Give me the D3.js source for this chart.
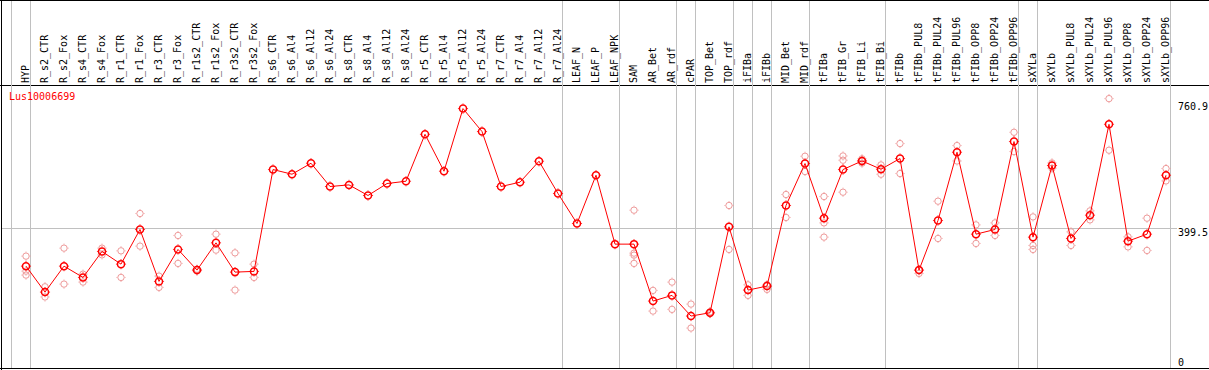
<!DOCTYPE html>
<html><head><meta charset="utf-8">
<script src="https://cdn.jsdelivr.net/npm/d3@7"></script>
<style>
html,body{margin:0;padding:0;background:#fff;}
svg{display:block;}
text{font-family:"DejaVu Sans Mono",monospace;font-size:10px;}
</style></head>
<body>
<script>
const geneName = "Lus10006699";
const categories = ["HYP","R_s2_CTR","R_s2_Fox","R_s4_CTR","R_s4_Fox","R_r1_CTR","R_r1_Fox","R_r3_CTR","R_r3_Fox","R_r1s2_CTR","R_r1s2_Fox","R_r3s2_CTR","R_r3s2_Fox","R_s6_CTR","R_s6_Al4","R_s6_Al12","R_s6_Al24","R_s8_CTR","R_s8_Al4","R_s8_Al12","R_s8_Al24","R_r5_CTR","R_r5_Al4","R_r5_Al12","R_r5_Al24","R_r7_CTR","R_r7_Al4","R_r7_Al12","R_r7_Al24","LEAF_N","LEAF_P","LEAF_NPK","SAM","AR_Bet","AR_rdf","cPAR","TOP_Bet","TOP_rdf","iFIBa","iFIBb","MID_Bet","MID_rdf","tFIBa","tFIB_Gr","tFIB_Li","tFIB_Bi","tFIBb","tFIBb_PUL8","tFIBb_PUL24","tFIBb_PUL96","tFIBb_OPP8","tFIBb_OPP24","tFIBb_OPP96","sXYLa","sXYLb","sXYLb_PUL8","sXYLb_PUL24","sXYLb_PUL96","sXYLb_OPP8","sXYLb_OPP24","sXYLb_OPP96"];
const means = [292.6,220.2,292.6,261.1,333.6,298.2,394.9,250.0,339.2,281.5,357.6,275.9,277.9,562.1,549.1,579.7,514.8,519.3,489.7,523.1,529.5,660.5,557.4,732.2,668.1,514.8,526.8,585.3,495.3,411.6,546.3,354.0,354.0,195.1,211.0,153.3,162.5,402.2,225.8,236.9,461.8,578.9,426.4,562.1,586.1,563.0,592.8,281.5,420.0,610.4,381.8,394.9,640.2,373.5,573.3,369.8,434.8,688.4,362.3,381.8,546.3];
const replicates = [
 [320.5,278.7,267.6],[235.0,206.6],[342.8,242.5],[270.3,248.1],[342.8,324.1],[335.3,261.1],[439.5,348.4],[264.8,233.3],[378.2,300.2],[284.0,279.0],[381.8,337.2],[329.7,225.8],[298.2,261.1],
 [],[],[],[],[],[],[],[],[],[],[],[],[],[],[],[],[],[],[],
 [448.7,328.9,323.3,300.2],[224.9,167.2],[248.0,172.0],[186.7,119.8],[165.0,160.0],[461.8,339.2],[240.5,211.0],[241.0,227.7],[492.5,428.4],[599.2,556.6],[486.9,413.3,373.5],[600.0,588.1,498.9],[592.0,586.0,580.0],[575.0,549.0],[634.6,551.0],[281.5,272.3],[473.8,369.8],[629.0,586.0],[407.7,355.9],[413.3,378.2],[666.1,612.3],
 [430.0,350.3,339.2],[580.6,565.8],[388.2,350.3],[446.8,421.7],[760.0,616.0],[374.3,346.4],[426.4,336.4],[564.9,530.4]
];
const yTickValues = [0, 399.5, 760.9];
const yTickLabels = ["0", "399.5", "760.9"];
const groupEnds = [-1, 0, 28, 31, 34, 35, 37, 38, 39, 41, 45, 52, 53, 60];

const W = 1209, H = 370;
const svg = d3.select("body").append("svg").attr("width", W).attr("height", H);

const x = d3.scaleLinear().domain([0, categories.length - 1]).range([26, 1166]);
const y = d3.scaleLinear().domain([0, 760.9]).range([371, 98.3]);

// frame
svg.append("line").attr("x1",0).attr("x2",W).attr("y1",0.5).attr("y2",0.5).attr("stroke","#000");
svg.append("line").attr("x1",0).attr("x2",W).attr("y1",85.5).attr("y2",85.5).attr("stroke","#000");
svg.append("line").attr("x1",0).attr("x2",W).attr("y1",368.5).attr("y2",368.5).attr("stroke","#000");
svg.append("line").attr("x1",1.5).attr("x2",1.5).attr("y1",0).attr("y2",H).attr("stroke","#000");

// group separators
svg.selectAll("line.sep").data(groupEnds).enter().append("line")
  .attr("class","sep")
  .attr("x1", d => Math.round(x(d) + 4) + 0.5).attr("x2", d => Math.round(x(d) + 4) + 0.5)
  .attr("y1", 1).attr("y2", 368)
  .attr("stroke", "#c0c0c0");

// middle gridline
svg.append("line").attr("x1",2).attr("x2",1177)
  .attr("y1", Math.round(y(yTickValues[1])) + 0.5).attr("y2", Math.round(y(yTickValues[1])) + 0.5)
  .attr("stroke","#c0c0c0");

// y labels on the right
svg.selectAll("text.yl").data(yTickValues).enter().append("text")
  .attr("class","yl")
  .attr("x", 1178)
  .attr("y", (d,i) => i === 0 ? 366 : (i === 2 ? 110 : y(d) + 8))
  .attr("fill","#000")
  .text((d,i) => yTickLabels[i]);

// category labels
svg.selectAll("text.cat").data(categories).enter().append("text")
  .attr("class","cat")
  .attr("transform", (d,i) => `translate(${x(i) + 3},83) rotate(-90)`)
  .attr("fill","#000")
  .text(d => d);

// title
svg.append("text").attr("x", 9).attr("y", 100).attr("fill", "#ff0000").text(geneName);

function marker(g, cx, cy, r, color, sw) {
  g.append("circle").attr("cx", cx).attr("cy", cy).attr("r", r)
    .attr("fill", "none").attr("stroke", color).attr("stroke-width", sw);
  const a = r + sw/2, b = a + 0.8;
  g.append("path")
    .attr("d", `M${cx},${cy - b}V${cy - a}M${cx},${cy + b}V${cy + a}M${cx - b},${cy}H${cx - a}M${cx + b},${cy}H${cx + a}`)
    .attr("stroke", color).attr("stroke-width", 1);
}

// replicates
const repG = svg.append("g");
replicates.forEach((reps, i) => {
  reps.forEach(v => marker(repG, x(i), y(v), 3.2, "#ee9a9a", 1));
});

// mean line
const line = d3.line().x((d,i) => x(i)).y(d => y(d));
svg.append("path").datum(means).attr("d", line)
  .attr("fill","none").attr("stroke","#ff0000").attr("stroke-width",1);

// mean markers
const mG = svg.append("g");
means.forEach((v, i) => marker(mG, x(i), y(v), 3.5, "#ff0000", 1.5));
</script>
</body></html>
